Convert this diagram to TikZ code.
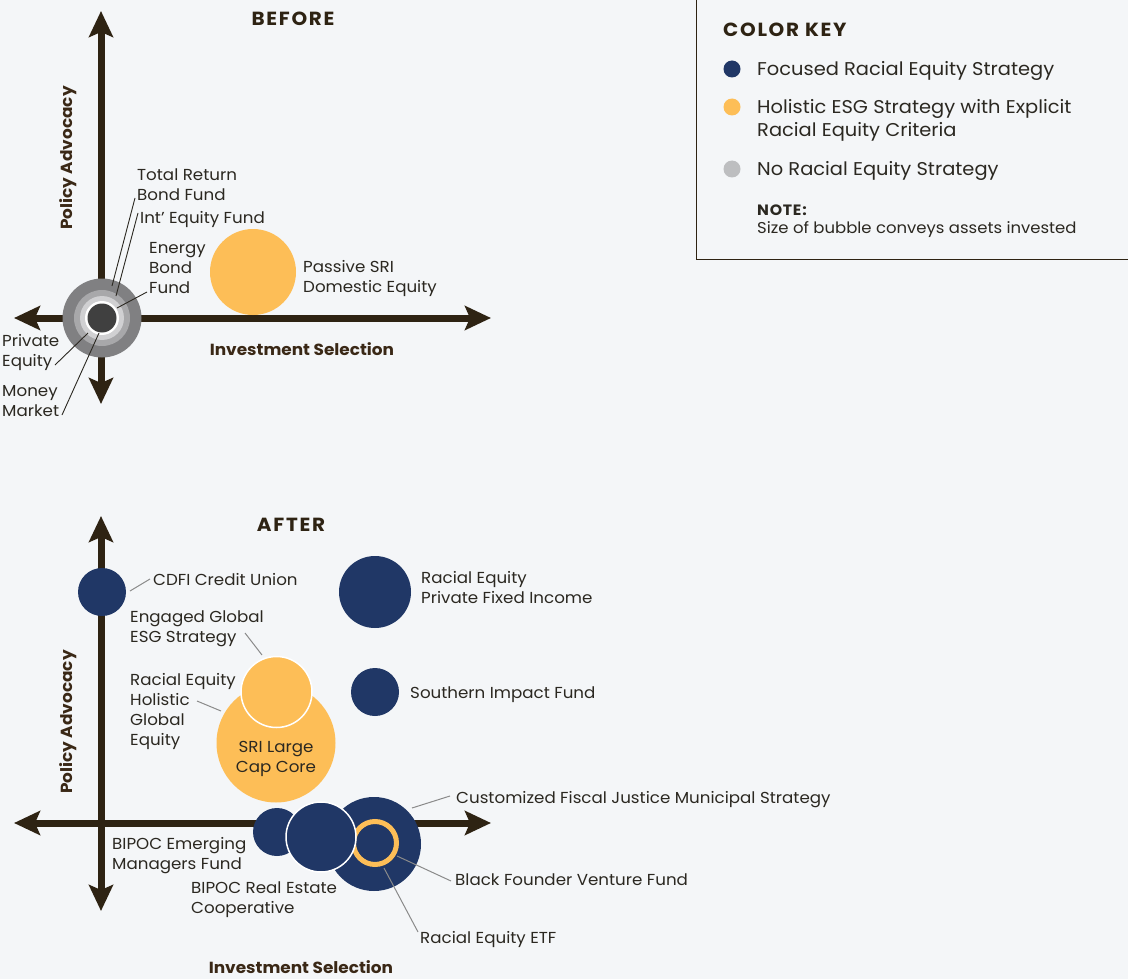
\documentclass[tikz,border=0pt]{standalone}
\usepackage{fontspec}
\setmainfont{Poppins}
\newfontfamily\mfont[FakeStretch=1.05]{Poppins}
\newfontfamily\tfont[FakeStretch=1.05,LetterSpace=9]{Poppins}
\newfontfamily\nfont[FakeStretch=1.05,LetterSpace=5]{Poppins}
\usetikzlibrary{arrows.meta}
\definecolor{bg}{HTML}{F4F6F8}
\definecolor{navy}{HTML}{203766}
\definecolor{gold}{HTML}{FDBE57}
\definecolor{keygrey}{HTML}{BDBEC0}
\definecolor{txt}{HTML}{2B2821}
\definecolor{axisc}{HTML}{2E2313}
\definecolor{brownlbl}{HTML}{3A2816}
\definecolor{leadgrey}{HTML}{8A8A8A}
\definecolor{ring1}{HTML}{808082}
\definecolor{ring2}{HTML}{A8A8AA}
\definecolor{ring3}{HTML}{D0D0D2}
\definecolor{core}{HTML}{404040}
\begin{document}
\begin{tikzpicture}[x=1pt,y=-1pt,
  axis/.style={draw=axisc, line width=7pt, {Stealth[length=26pt,width=24pt,inset=5pt]}-{Stealth[length=26pt,width=24pt,inset=5pt]}},
  lbl/.style={anchor=west, inner sep=0pt, yshift=-2.5pt, align=left, font=\mfont\fontsize{15.9}{20}\selectfont, text=txt},
  keylbl/.style={anchor=west, inner sep=0pt, yshift=-2pt, align=left, font=\mfont\fontsize{18.5}{23}\selectfont, text=txt},
  ttl/.style={inner sep=0pt, yshift=-1pt, font=\tfont\bfseries\fontsize{19}{22}\selectfont, text=axisc},
  axlbl/.style={inner sep=0pt, font=\mfont\bfseries\fontsize{16.1}{20}\selectfont, text=brownlbl},
  bub/.style={circle, inner sep=0pt, draw=none},
  lead/.style={draw=txt, line width=0.9pt},
  leadg/.style={draw=leadgrey, line width=1pt},
  dot/.style={circle, inner sep=0pt, minimum size=17pt, draw=none}
]
\useasboundingbox (0,0) rectangle (1128,979);
\fill[bg] (0,0) rectangle (1128,979);

% ---------- KEY ----------
\draw[axisc, line width=1pt] (696,-2) -- (696,259.5) -- (1130,259.5);
\node[ttl, anchor=west] (keyttl) at (723,29) {COLOR KEY};
\node[dot, fill=navy] (d1) at (732,69) {};
\node[dot, fill=gold] (d2) at (732,107) {};
\node[dot, fill=keygrey] (d3) at (732,169) {};
\node[keylbl] (k1) at (757,69) {Focused Racial Equity Strategy};
\node[keylbl] (k2) at (757,118.5) {Holistic ESG Strategy with Explicit\\Racial Equity Criteria};
\node[keylbl] (k3) at (757,169) {No Racial Equity Strategy};
\node[anchor=west, inner sep=0pt, yshift=-1pt, font=\nfont\bfseries\fontsize{15}{18}\selectfont, text=txt] (note) at (757,209) {NOTE:};
\node[anchor=west, inner sep=0pt, yshift=-1.5pt, font=\mfont\fontsize{15.7}{18}\selectfont, text=txt] (notet) at (757,228) {Size of bubble conveys assets invested};

% ---------- BEFORE ----------
\coordinate (bvt) at (101,11);
\coordinate (bvb) at (101,404);
\coordinate (bhl) at (14,318);
\coordinate (bhr) at (491,318);
\draw[axis] (bvb) -- (bvt);
\draw[axis] (bhl) -- (bhr);
\node[ttl] (before) at (293,18) {BEFORE};
\node[axlbl] (bxl) at (302,349) {Investment Selection};
\node[axlbl, rotate=90] (byl) at (68,158) {Policy Advocacy};

\node[bub, fill=gold, minimum size=86pt] (pss) at (253,272) {};
\node[bub, fill=ring1, minimum size=79pt] (r1) at (102,318) {};
\node[bub, fill=ring2, minimum size=56pt] (r2) at (102,318) {};
\node[bub, fill=ring3, minimum size=44pt] (r3) at (102,318) {};
\node[bub, fill=white, minimum size=34pt] (r4) at (102,318) {};
\node[bub, fill=core, minimum size=29pt] (r5) at (102,318) {};

\node[lbl] (tr) at (137,182) {Total Return\\Bond Fund};
\node[lbl] (ie) at (140,217) {Int’ Equity Fund};
\node[lbl] (eb) at (149,266) {Energy\\Bond\\Fund};
\node[lbl] (ps) at (303,276) {Passive SRI\\Domestic Equity};
\node[lbl] (pe) at (2,350) {Private\\Equity};
\node[lbl] (mm) at (2,399) {Money\\Market};

\coordinate (trA) at (135,198); \coordinate (trB) at (112,286);
\coordinate (ieA) at (138,213); \coordinate (ieB) at (116,296);
\coordinate (ebA) at (147,292); \coordinate (ebB) at (117,308);
\coordinate (peA) at (55,365);  \coordinate (peB) at (88,333);
\coordinate (mmA) at (62,415);  \coordinate (mmB) at (99,333);
\draw[lead] (trA) -- (trB);
\draw[lead] (ieA) -- (ieB);
\draw[lead] (ebA) -- (ebB);
\draw[lead] (peA) -- (peB);
\draw[lead] (mmA) -- (mmB);

% ---------- AFTER ----------
\coordinate (avt) at (101,516);
\coordinate (avb) at (101,911);
\coordinate (ahl) at (14,823);
\coordinate (ahr) at (491,823);
\draw[axis] (avb) -- (avt);
\draw[axis] (ahl) -- (ahr);
\node[ttl] (after) at (291,524) {AFTER};
\node[axlbl] (axl) at (301,967) {Investment Selection};
\node[axlbl, rotate=90] (ayl) at (68,722) {Policy Advocacy};

\node[bub, fill=navy, minimum size=48pt] (cdfi) at (102,592) {};
\node[bub, fill=navy, minimum size=72pt] (repfi) at (375,592) {};
\node[bub, fill=navy, minimum size=48pt] (sif) at (375,692) {};
\node[bub, fill=gold, minimum size=119pt] (sri) at (276,743) {};
\node[bub, fill=gold, draw=white, line width=1.5pt, minimum size=71pt] (eg) at (276.5,692) {};

\node[bub, fill=navy, minimum size=94pt] (cfj) at (374,844) {};
\node[bub, draw=gold, line width=5pt, minimum size=43pt] (etf) at (375,843) {};
\node[bub, fill=navy, minimum size=48pt] (bem) at (277,832) {};
\node[bub, fill=navy, draw=white, line width=1.5pt, minimum size=70pt] (bre) at (321,837) {};

\node[lbl] (cdfiL) at (153,577) {CDFI Credit Union};
\node[lbl] (repL) at (421,585.5) {Racial Equity\\Private Fixed Income};
\node[lbl] (sifL) at (410,692) {Southern Impact Fund};
\node[lbl] (egL) at (130,626) {Engaged Global\\ESG Strategy};
\node[lbl] (rehL) at (130,709) {Racial Equity\\Holistic\\Global\\Equity};
\node[lbl, anchor=center, align=center] (sriL) at (276,756) {SRI Large\\Cap Core};
\node[lbl] (bemL) at (112,853) {BIPOC Emerging\\Managers Fund};
\node[lbl] (breL) at (191,897) {BIPOC Real Estate\\Cooperative};
\node[lbl] (cfjL) at (456,797) {Customized Fiscal Justice Municipal Strategy};
\node[lbl] (bfvL) at (455,877) {Black Founder Venture Fund};
\node[lbl] (etfL) at (420,937) {Racial Equity ETF};

\coordinate (cdA) at (130,591); \coordinate (cdB) at (150,579);
\coordinate (egA) at (245,633); \coordinate (egB) at (262,655);
\coordinate (rhA) at (197,701); \coordinate (rhB) at (221,711);
\coordinate (cfA) at (412,808); \coordinate (cfB) at (450,796);
\coordinate (bfA) at (397,856); \coordinate (bfB) at (451,881);
\coordinate (etA) at (384,868); \coordinate (etB) at (418,932);
\draw[leadg] (cdA) -- (cdB);
\draw[leadg] (egA) -- (egB);
\draw[leadg] (rhA) -- (rhB);
\draw[leadg] (cfA) -- (cfB);
\draw[leadg] (bfA) -- (bfB);
\draw[leadg] (etA) -- (etB);
\end{tikzpicture}
\end{document}
